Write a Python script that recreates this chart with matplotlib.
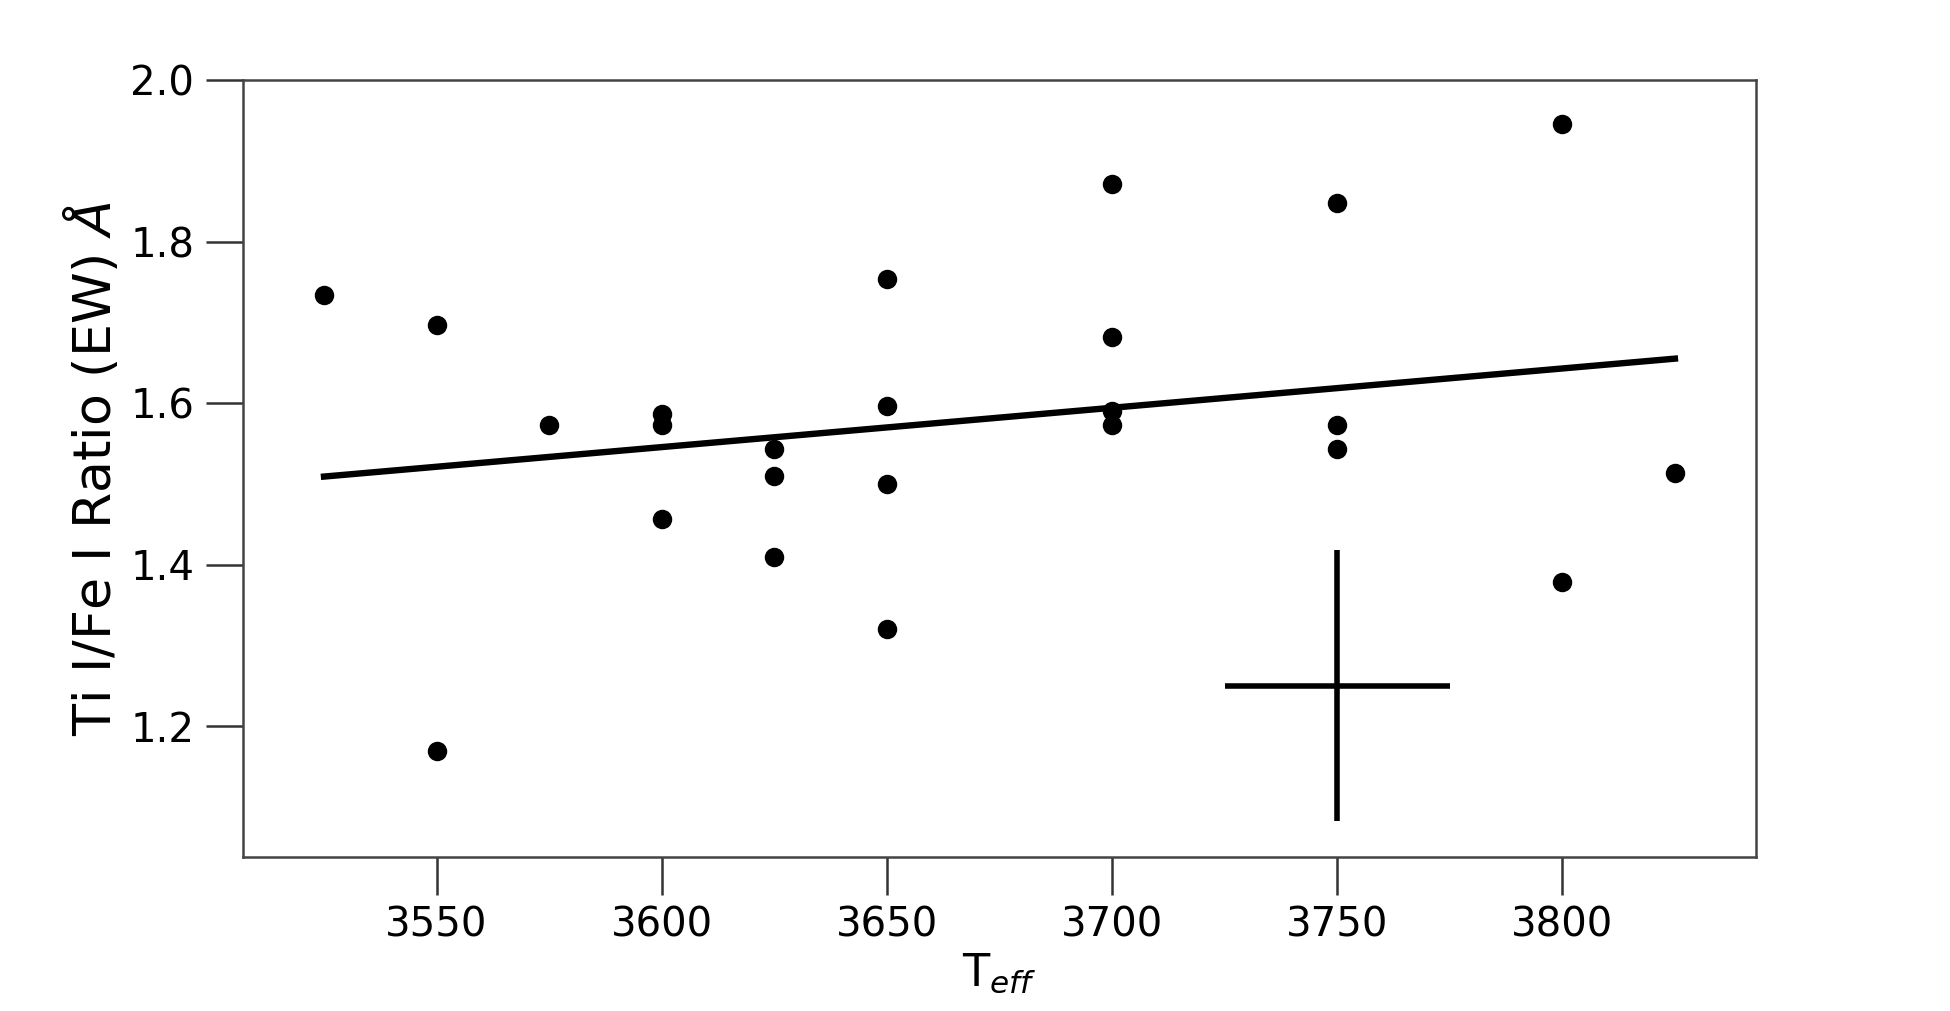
import matplotlib
matplotlib.use("Agg")
import matplotlib.pyplot as plt

# Effective temperature and Ti I / Fe I equivalent width ratio
teff = [3525, 3550, 3550, 3575, 3600, 3600, 3600,
        3625, 3625, 3625, 3650, 3650, 3650, 3650,
        3700, 3700, 3700, 3700, 3750, 3750, 3750,
        3800, 3800, 3825]
ratio = [1.734, 1.697, 1.169, 1.573, 1.587, 1.573, 1.457,
         1.543, 1.510, 1.410, 1.754, 1.596, 1.500, 1.320,
         1.871, 1.682, 1.590, 1.573, 1.848, 1.573, 1.543,
         1.945, 1.379, 1.513]

# linear fit end points
fit_x = [3525, 3825]
fit_y = [1.509, 1.655]

# typical error bar
err_x, err_y = 3750, 1.25
err_xerr, err_yerr = 25, 0.168

xticks = [3550, 3600, 3650, 3700, 3750, 3800]
yticks = [1.2, 1.4, 1.6, 1.8, 2.0]

fig = plt.figure(figsize=(9.75, 5.055), dpi=200)
ax = fig.add_axes([0.1246, 0.1523, 0.7759, 0.7686])

ax.plot(teff, ratio, 'o', color='black', markersize=6)
ax.plot(fit_x, fit_y, '-', color='black', linewidth=2.3)
ax.errorbar(err_x, err_y, xerr=err_xerr, yerr=err_yerr, fmt='none',
            ecolor='black', elinewidth=2.0, capsize=0)

ax.set_xlim(3507, 3843)
ax.set_ylim(1.038, 2.0)
ax.set_xticks(xticks)
ax.set_yticks(yticks)

for s in ax.spines.values():
    s.set_color('#444444')
    s.set_linewidth(0.9)

ax.tick_params(direction='out', length=13.5, width=0.9, color='#333333',
               labelsize=14.5, pad=4, top=False, right=False)

ax.set_xlabel('T$_{eff}$', fontsize=16, labelpad=2)
ax.set_ylabel('Ti I/Fe I Ratio (EW) $Å$', fontsize=18.8, labelpad=3)

fig.savefig("out.png", dpi=200, facecolor='white')
